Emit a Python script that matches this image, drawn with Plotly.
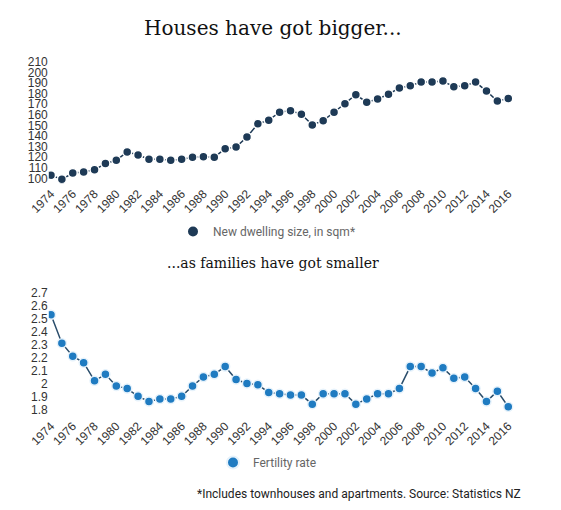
import plotly.graph_objects as go

years = list(range(1974, 2017))
dwelling_size = [103, 99, 105, 106, 108, 114, 117, 125, 122, 118, 118, 117, 118, 120, 120.5, 120,
                 128, 129.5, 139, 151.5, 155, 162.5, 164, 160.5, 150.5, 154.5, 162.5, 170.5, 179,
                 172, 175, 179.5, 185.5, 187.5, 191, 191, 192, 186.5, 187.5, 191, 182.5, 173, 175.5]
fertility = [2.53, 2.31, 2.21, 2.16, 2.02, 2.07, 1.98, 1.96, 1.90, 1.86, 1.88, 1.88, 1.90, 1.98,
             2.05, 2.07, 2.13, 2.03, 2.00, 1.99, 1.93, 1.92, 1.91, 1.91, 1.84, 1.92, 1.92, 1.92,
             1.84, 1.88, 1.92, 1.92, 1.96, 2.13, 2.13, 2.08, 2.12, 2.04, 2.05, 1.96, 1.86, 1.94, 1.82]

top_ticks = list(range(100, 220, 10))
bottom_ticks = [1.8, 1.9, 2.0, 2.1, 2.2, 2.3, 2.4, 2.5, 2.6, 2.7]
bottom_ticktext = ["1.8", "1.9", "2", "2.1", "2.2", "2.3", "2.4", "2.5", "2.6", "2.7"]
year_ticks = list(range(1974, 2017, 2))

title_top = "Houses have got bigger..."
title_bottom = "...as families have got smaller"
footer = "*Includes townhouses and apartments. Source: Statistics NZ"

navy = "#1e3a56"
blue = "#1f7bc1"

W, H = 561, 510
OFF = 8  # page body margin


def px(xp):
    return (xp - OFF) / W


def py(yp):
    return 1 - (yp - OFF) / H


fig = go.Figure()
fig.add_trace(go.Scatter(x=years, y=dwelling_size, mode="lines", line=dict(color=navy, width=1.5),
                         showlegend=False, hoverinfo="skip", xaxis="x", yaxis="y"))
fig.add_trace(go.Scatter(x=years, y=dwelling_size, mode="markers", name="New dwelling size, in sqm*",
                         marker=dict(color=navy, size=9, line=dict(color="white", width=1.5)),
                         xaxis="x", yaxis="y", legend="legend"))
fig.add_trace(go.Scatter(x=years, y=fertility, mode="lines", line=dict(color="#2a4d6b", width=1.5),
                         showlegend=False, hoverinfo="skip", xaxis="x2", yaxis="y2"))
fig.add_trace(go.Scatter(x=years, y=fertility, mode="markers", name="Fertility rate",
                         marker=dict(color=blue, size=9, line=dict(color="#e6f2fb", width=1.5)),
                         xaxis="x2", yaxis="y2", legend="legend2"))

tickfont = dict(family="Liberation Sans, Arial, sans-serif", size=12, color="#333")
xcommon = dict(range=[1973.8, 2016.5], domain=[px(48.8), px(513.7)], tickvals=year_ticks,
               tickangle=-45, showgrid=False, zeroline=False, showline=False, ticks="",
               tickfont=tickfont, automargin=False)
ycommon = dict(showgrid=False, zeroline=False, showline=False, ticks="", tickfont=tickfont,
               automargin=False)

fig.update_layout(
    template="none",
    width=W, height=H,
    margin=dict(l=0, r=0, t=0, b=0, autoexpand=False),
    paper_bgcolor="white", plot_bgcolor="white",
    xaxis=dict(anchor="y", **xcommon),
    yaxis=dict(range=[95, 215], domain=[py(183.6), py(56.7)], tickvals=top_ticks, anchor="x",
               **ycommon),
    xaxis2=dict(anchor="y2", **xcommon),
    yaxis2=dict(range=[1.75, 2.75], domain=[py(415.8), py(286.2)], tickvals=bottom_ticks,
                ticktext=bottom_ticktext, anchor="x2", **ycommon),
    legend=dict(x=px(173), y=py(217), xanchor="left", yanchor="top",
                font=dict(family="Roboto, sans-serif", size=12, color="#666"),
                bgcolor="rgba(0,0,0,0)", itemsizing="constant"),
    legend2=dict(x=px(213), y=py(448), xanchor="left", yanchor="top",
                 font=dict(family="Roboto, sans-serif", size=12, color="#666"),
                 bgcolor="rgba(0,0,0,0)", itemsizing="constant"),
    annotations=[
        dict(text=title_top, x=px(273), y=py(28), xref="paper", yref="paper",
             xanchor="center", yanchor="middle", showarrow=False,
             font=dict(family="DejaVu Serif, Georgia, serif", size=20, color="#111")),
        dict(text=title_bottom, x=px(273), y=py(263), xref="paper", yref="paper",
             xanchor="center", yanchor="middle", showarrow=False,
             font=dict(family="DejaVu Serif, Georgia, serif", size=14, color="#111")),
        dict(text=footer, x=px(358.5), y=py(494), xref="paper", yref="paper",
             xanchor="center", yanchor="middle", showarrow=False,
             font=dict(family="Roboto, sans-serif", size=12, color="#222")),
    ],
)

fig.write_html("out.html")
